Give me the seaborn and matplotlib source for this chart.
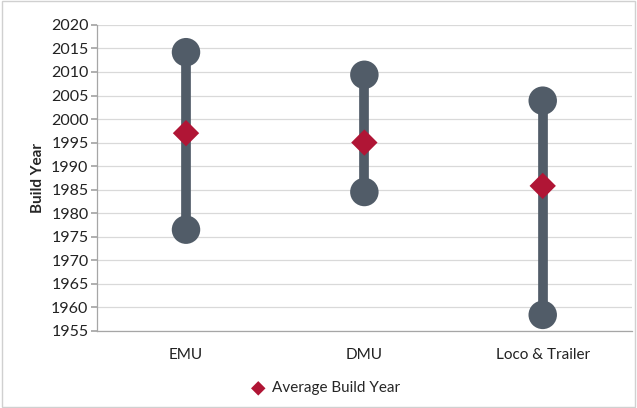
import pandas as pd
import matplotlib.pyplot as plt
import seaborn as sns

sns.set_theme(style="white")
plt.rcParams['font.family'] = ['Lato', 'DejaVu Sans']

categories = ["EMU", "DMU", "Loco & Trailer"]
min_year = [1976.5, 1984.5, 1958.4]
max_year = [2014.2, 2009.4, 2003.9]
avg_year = [1997.0, 1995.0, 1985.8]

df = pd.DataFrame({"cat": categories, "min": min_year, "max": max_year, "avg": avg_year})
ends = pd.concat([df[["cat", "min"]].rename(columns={"min": "year"}),
                  df[["cat", "max"]].rename(columns={"max": "year"})])

grey = "#515C68"
red = "#B01535"

fig = plt.figure(figsize=(6.37, 4.08), dpi=100)
ax = fig.add_axes([0.152, 0.189, 0.84, 0.75])

# range bars + end caps
ax.vlines(df["cat"], df["min"], df["max"], color=grey, lw=7, zorder=2)
sns.scatterplot(data=ends, x="cat", y="year", color=grey, s=420, edgecolor="none",
                ax=ax, zorder=3, legend=False)
sns.scatterplot(data=df, x="cat", y="avg", color=red, marker="D", s=180, edgecolor="none",
                ax=ax, zorder=4, label="Average Build Year")

ax.set_xlim(-0.5, 2.5)
ax.set_ylim(1955, 2020)
ax.set_yticks(range(1955, 2021, 5))
ax.yaxis.grid(True, color="#D9D9D9", lw=0.9)
ax.set_axisbelow(True)
for s in ["top", "right"]:
    ax.spines[s].set_visible(False)
for s in ["left", "bottom"]:
    ax.spines[s].set_color("#A6A6A6")
    ax.spines[s].set_linewidth(0.9)
ax.tick_params(axis="y", left=True, length=4, color="#A6A6A6", labelsize=11.5, pad=2)
ax.tick_params(axis="y", labelcolor="#222222")
ax.tick_params(axis="x", bottom=False, labelsize=11, pad=6, labelcolor="#222222")
ax.set_xlabel("")
ax.set_ylabel("Build Year", fontsize=11, fontweight="bold", labelpad=4)

ax.legend(loc="upper center", bbox_to_anchor=(0.42, -0.12), frameon=False, fontsize=11,
          handletextpad=-0.1, markerscale=0.55)

fig.patches.append(plt.Rectangle((0.003, 0.003), 0.994, 0.994, transform=fig.transFigure,
                                 fill=False, edgecolor="#D0D0D0", lw=1))
fig.savefig("out.png", dpi=100)
